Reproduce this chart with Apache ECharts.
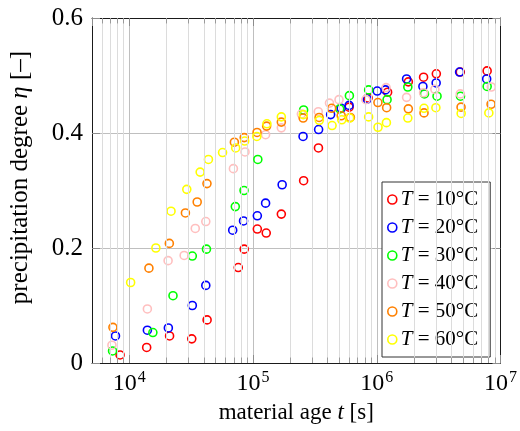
<!DOCTYPE html>
<html>
<head>
<meta charset="utf-8">
<script src="https://cdn.jsdelivr.net/npm/echarts@6/dist/echarts.min.js"></script>
<style>
  html, body { margin: 0; padding: 0; background: #fff; }
  #chart { width: 520px; height: 431px; }
</style>
</head>
<body>
<div id="chart"></div>
<script>
// Curing temperatures (°C) and their marker colours
const temps = [10, 20, 30, 40, 50, 60];
const colors = ['#ff0000', '#0000ff', '#00ff00', '#ffbfbf', '#ff8000', '#ffff00'];

// Material age t [s] and precipitation degree η [-] per temperature
const ages10 = [8430, 13830, 21180, 32000, 42570, 76000, 84900, 108400, 127900, 169400, 256500, 338000, 598000, 851000, 1224000, 1800000, 2390000, 3030000, 4730000, 7800000];
const eta10  = [0.014, 0.027, 0.047, 0.042, 0.075, 0.166, 0.198, 0.233, 0.226, 0.259, 0.317, 0.374, 0.445, 0.461, 0.471, 0.489, 0.497, 0.503, 0.506, 0.508];

const ages20 = [7740, 14010, 20700, 32330, 41550, 68550, 83850, 108400, 126400, 172000, 253800, 339000, 423900, 516000, 598000, 836000, 1009000, 1175000, 1742000, 2360000, 3020000, 4670000, 7730000];
const eta20  = [0.047, 0.057, 0.061, 0.100, 0.135, 0.231, 0.247, 0.256, 0.278, 0.310, 0.394, 0.406, 0.432, 0.443, 0.448, 0.459, 0.473, 0.475, 0.494, 0.481, 0.487, 0.506, 0.494];

const ages30 = [7330, 15520, 22570, 32330, 42070, 71940, 84620, 109400, 256500, 502000, 601000, 860000, 1212000, 1783000, 2430000, 3070000, 4750000, 7800000];
const eta30  = [0.021, 0.053, 0.117, 0.186, 0.198, 0.272, 0.300, 0.354, 0.440, 0.442, 0.465, 0.475, 0.458, 0.480, 0.468, 0.464, 0.464, 0.481];

const ages40 = [7245, 14010, 20600, 27770, 34150, 41550, 69440, 86200, 126400, 169400, 246000, 337000, 415000, 495500, 817000, 1190000, 1742000, 2390000, 2950000, 4730000, 8430000];
const eta40  = [0.031, 0.094, 0.178, 0.187, 0.234, 0.246, 0.338, 0.367, 0.397, 0.409, 0.433, 0.437, 0.452, 0.458, 0.458, 0.479, 0.462, 0.470, 0.476, 0.468, 0.480];

const ages50 = [7380, 14420, 21080, 28430, 35400, 42470, 70720, 84900, 107800, 128900, 169400, 254200, 342000, 432000, 516000, 612000, 1022000, 1202000, 1800000, 2410000, 4800000, 8390000];
const eta50  = [0.062, 0.165, 0.208, 0.261, 0.280, 0.312, 0.384, 0.392, 0.401, 0.412, 0.419, 0.426, 0.427, 0.443, 0.430, 0.427, 0.453, 0.444, 0.442, 0.435, 0.445, 0.450];

const ages60 = [10260, 16410, 21760, 29170, 37410, 43650, 56760, 72440, 85700, 107400, 129500, 169400, 255200, 343400, 435500, 521600, 604000, 860000, 1024000, 1197000, 1783000, 2410000, 3005000, 4810000, 8050000];
const eta60  = [0.140, 0.200, 0.264, 0.302, 0.332, 0.354, 0.366, 0.374, 0.386, 0.394, 0.416, 0.428, 0.432, 0.422, 0.413, 0.423, 0.426, 0.428, 0.410, 0.418, 0.426, 0.443, 0.444, 0.434, 0.435];

// Axis ranges and tick labels
const xMin = 5000, xMax = 1e7;
const xTickExponents = [4, 5, 6, 7];
const yTicks = [0, 0.2, 0.4, 0.6];
const yTickLabels = ['0', '0.2', '0.4', '0.6'];
// Minor log grid positions (2..9 × 10^n)
const minorTicks = [6e3, 7e3, 8e3, 9e3,
  2e4, 3e4, 4e4, 5e4, 6e4, 7e4, 8e4, 9e4,
  2e5, 3e5, 4e5, 5e5, 6e5, 7e5, 8e5, 9e5,
  2e6, 3e6, 4e6, 5e6, 6e6, 7e6, 8e6, 9e6];

const ageSets = [ages10, ages20, ages30, ages40, ages50, ages60];
const etaSets = [eta10, eta20, eta30, eta40, eta50, eta60];

const FONT = 'Liberation Serif';
const yMin = yTicks[0], yMax = yTicks[yTicks.length - 1];
const minorLen = 0.0095, majorLen = 8;

const chart = echarts.init(document.getElementById('chart'), null, { renderer: 'canvas' });

const seriesNames = temps.map(t => 'T = ' + t + '°C');

const scatterSeries = temps.map((t, i) => ({
  name: seriesNames[i],
  type: 'scatter',
  z: 3,
  symbol: 'circle',
  symbolSize: 8,
  itemStyle: { color: 'transparent', borderColor: colors[i], borderWidth: 1.6, opacity: 1 },
  emphasis: { disabled: true },
  data: ageSets[i].map((a, k) => [a, etaSets[i][k]])
}));

// Minor grid lines
const minorGridSeries = {
  name: 'minor-grid',
  type: 'line',
  data: [],
  z: 1,
  silent: true,
  markLine: {
    silent: true,
    symbol: ['none', 'none'],
    label: { show: false },
    animation: false,
    lineStyle: { color: '#dcdcdc', width: 1, type: 'solid' },
    data: minorTicks.map(v => ({ xAxis: v }))
  }
};
// Short minor tick marks along the bottom and top edges
const minorTickSeries = {
  name: 'minor-ticks',
  type: 'line',
  data: [],
  z: 2,
  silent: true,
  markLine: {
    silent: true,
    symbol: ['none', 'none'],
    label: { show: false },
    animation: false,
    lineStyle: { color: '#9a9a9a', width: 1, type: 'solid' },
    data: minorTicks.flatMap(v => [
      [{ coord: [v, yMin] }, { coord: [v, yMin + minorLen] }],
      [{ coord: [v, yMax - minorLen] }, { coord: [v, yMax] }]
    ])
  }
};

const axisLine = () => ({ show: true, onZero: false, lineStyle: { color: '#1a1a1a', width: 1 } });
const tickStyle = () => ({ show: true, inside: true, length: majorLen, lineStyle: { color: '#8c8c8c', width: 1 } });
const italic = size => ({ it: { fontFamily: FONT, fontSize: size, fontStyle: 'italic', color: '#000' } });

function xLabel(v) {
  const e = Math.log10(v);
  const r = Math.round(e);
  if (Math.abs(e - r) > 1e-6 || xTickExponents.indexOf(r) < 0) return '';
  return '10{sup|' + r + '}';
}

const option = {
  animation: false,
  backgroundColor: '#ffffff',
  grid: { left: 90, right: 15, top: 18, bottom: 68, containLabel: false },
  legend: {
    data: seriesNames,
    orient: 'vertical',
    left: 382,
    top: 182,
    padding: [7, 12, 7, 5],
    itemGap: 7,
    itemWidth: 9,
    itemHeight: 9,
    backgroundColor: '#ffffff',
    borderColor: '#333333',
    borderWidth: 1,
    borderRadius: 0,
    icon: 'circle',
    itemStyle: { borderWidth: 1.6 },
    selectedMode: false,
    formatter: n => '{it|T}' + n.slice(1),
    textStyle: {
      fontFamily: FONT, fontSize: 21, color: '#000', padding: [0, 0, 0, -1],
      rich: italic(21)
    }
  },
  xAxis: [{
    type: 'log',
    logBase: 10,
    min: xMin,
    max: xMax,
    position: 'bottom',
    name: 'material age {it|t} [s]',
    nameLocation: 'middle',
    nameGap: 38,
    nameTextStyle: { fontFamily: FONT, fontSize: 23, color: '#000', rich: italic(23) },
    axisLine: axisLine(),
    axisTick: tickStyle(),
    splitLine: { show: true, lineStyle: { color: '#bfbfbf', width: 1 } },
    axisLabel: {
      margin: 7,
      formatter: xLabel,
      showMinLabel: false,
      fontFamily: FONT, fontSize: 24, color: '#000',
      rich: { sup: { fontFamily: FONT, fontSize: 16, color: '#000', padding: [0, 0, 11, 1] } }
    }
  }, {
    type: 'log',
    logBase: 10,
    min: xMin,
    max: xMax,
    position: 'top',
    axisLine: axisLine(),
    axisTick: tickStyle(),
    splitLine: { show: false },
    axisLabel: { show: false }
  }],
  yAxis: [{
    type: 'value',
    min: yMin,
    max: yMax,
    interval: 0.2,
    position: 'left',
    name: 'precipitation degree {it|η} [–]',
    nameLocation: 'middle',
    nameGap: 59,
    nameTextStyle: { fontFamily: FONT, fontSize: 25, color: '#000', padding: [0, 0, 0, 26], rich: italic(25) },
    axisLine: axisLine(),
    axisTick: tickStyle(),
    splitLine: { show: true, lineStyle: { color: '#bfbfbf', width: 1 } },
    axisLabel: {
      margin: 9,
      formatter: v => yTickLabels[yTicks.findIndex(t => Math.abs(t - v) < 1e-9)] ?? '',
      fontFamily: FONT, fontSize: 25, color: '#000'
    }
  }, {
    type: 'value',
    min: yMin,
    max: yMax,
    interval: 0.2,
    position: 'right',
    axisLine: axisLine(),
    axisTick: tickStyle(),
    splitLine: { show: false },
    axisLabel: { show: false }
  }],
  series: [minorGridSeries, minorTickSeries, ...scatterSeries]
};

chart.setOption(option);
</script>
</body>
</html>
